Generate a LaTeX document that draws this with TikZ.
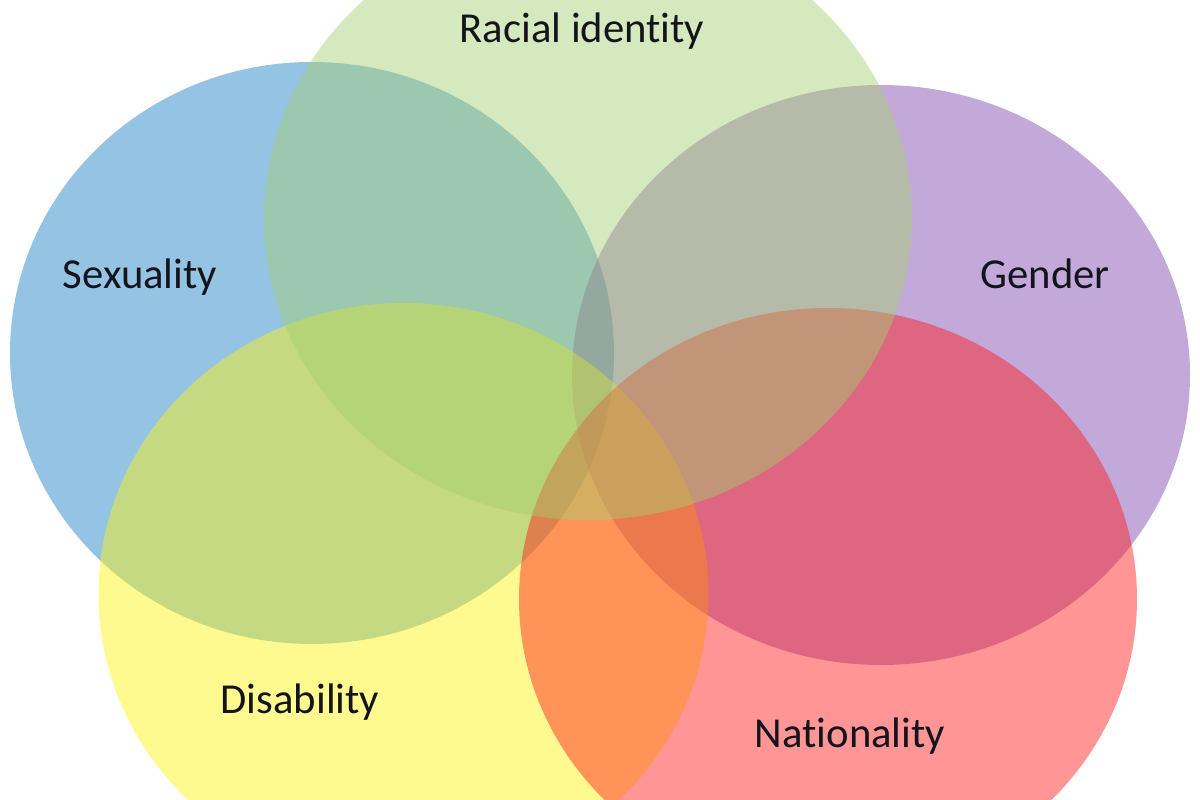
\documentclass[tikz,border=0pt]{standalone}
\usepackage{fontspec}
\setmainfont{Carlito}[Ligatures=NoCommon]
\definecolor{cblue}{RGB}{22,122,195}
\definecolor{cpurple}{RGB}{122,66,173}
\definecolor{cyellow}{RGB}{255,244,11}
\definecolor{cpink}{RGB}{255,22,22}
\definecolor{cgreen}{RGB}{164,208,111}
\definecolor{ctext}{RGB}{20,20,28}
\tikzset{
  venn/.style={fill=#1, fill opacity=0.45, draw=none},
  lbl/.style={anchor=base, text=ctext, font=\fontsize{42.7}{50}\selectfont, inner sep=0pt}
}
\begin{document}
\begin{tikzpicture}[x=1pt,y=-1pt]
\path[use as bounding box] (0,0) rectangle (1200,800);
\fill[white] (0,0) rectangle (1200,800);
\begin{scope}
\clip (0,0) rectangle (1200,800);
% Sexuality (blue)
\path[venn=cblue] (312,353) ellipse [x radius=302pt, y radius=291pt];
% Gender (purple)
\path[venn=cpurple] (881,375) ellipse [x radius=309pt, y radius=290pt];
% Disability (yellow)
\path[venn=cyellow] (403.5,594) ellipse [x radius=305pt, y radius=291pt];
% Nationality (pink)
\path[venn=cpink] (828,599) ellipse [x radius=309pt, y radius=291pt];
% Racial identity (green)
\path[venn=cgreen] (588,218) ellipse [x radius=324pt, y radius=302pt];
\end{scope}
\node[lbl] (racial) at (582,43) {Racial identity};
\node[lbl] (sexuality) at (140,288) {Sexuality};
\node[lbl] (gender) at (1045,288) {Gender};
\node[lbl] (disability) at (300,713) {Disability};
\node[lbl] (nationality) at (850,747) {Nationality};
\end{tikzpicture}
\end{document}
